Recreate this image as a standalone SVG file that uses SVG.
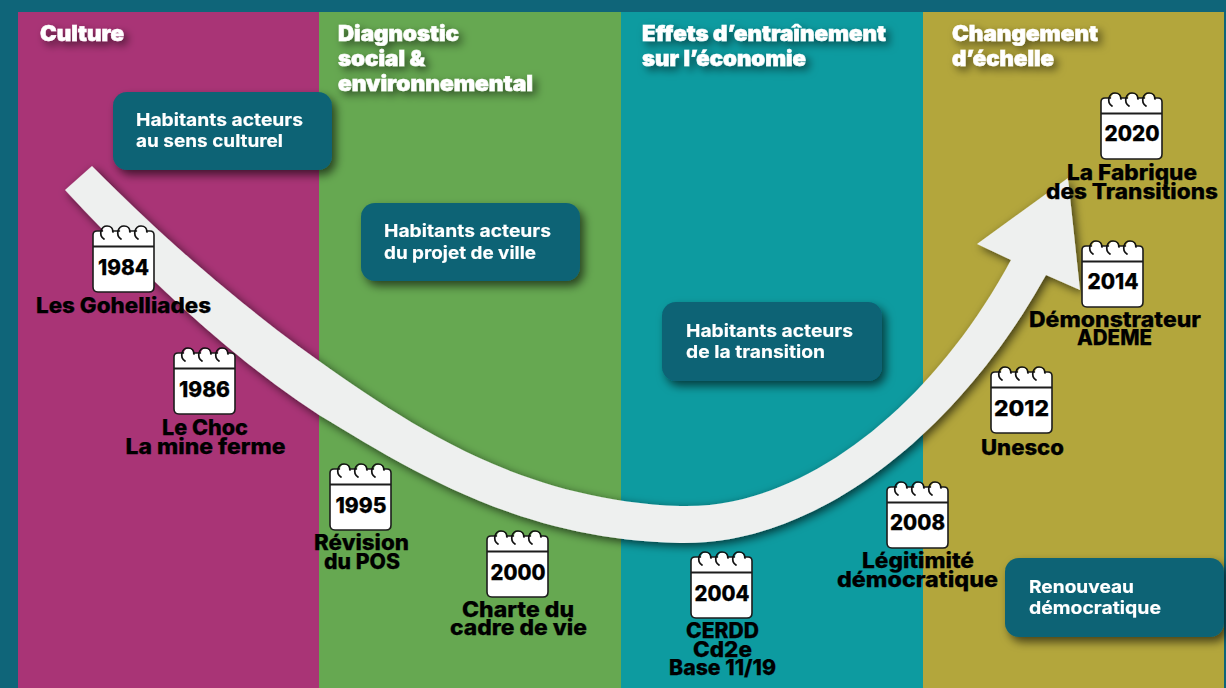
<svg xmlns="http://www.w3.org/2000/svg" xmlns:xlink="http://www.w3.org/1999/xlink" width="1226" height="688" viewBox="0 0 1226 688">
<style>
text{font-family:Inter,"Open Sans","Liberation Sans",sans-serif}
.t{font-size:21px;font-weight:900;fill:#fff;stroke:#fff;stroke-width:.5px}
.b{font-size:17.5px;font-weight:700;fill:#fff;stroke:#fff;stroke-width:.15px}
.l{font-size:21px;font-weight:800;fill:#000;text-anchor:middle;stroke:#000;stroke-width:.25px}
.y{font-size:21px;font-weight:800;fill:#000;text-anchor:middle;stroke:#000;stroke-width:.25px}
.box{fill:#0a6375}
</style>
<defs>
<filter id="ds" x="-20%" y="-40%" width="140%" height="190%"><feDropShadow dx="4" dy="4" stdDeviation="4" flood-color="#000" flood-opacity=".55"/></filter>
<filter id="bs" x="-20%" y="-40%" width="140%" height="190%"><feDropShadow dx="4" dy="5" stdDeviation="5" flood-color="#000" flood-opacity=".6"/></filter>
<filter id="as" x="-5%" y="-5%" width="110%" height="115%"><feDropShadow dx="3" dy="3" stdDeviation="5" flood-color="#000" flood-opacity=".65"/></filter>
<g id="cal">
<path d="M4,5H57Q61,5 61,9V61Q61,66 56,66H5Q0,66 0,61V9Q0,5 4,5Z" fill="#fff" stroke="#1c1c1c" stroke-width="1.6"/>
<path d="M0,20.500H61" stroke="#1c1c1c" stroke-width="1.800"/>
<circle cx="14.500" cy="5" r="4.500" fill="#fff"/><circle cx="31.500" cy="5" r="4.500" fill="#fff"/><circle cx="48.500" cy="5" r="4.500" fill="#fff"/>
<g fill="none" stroke="#111" stroke-width="1.700" stroke-linecap="round">
<path d="M11,13C5,9 8,0 14,0C18,0 20,3 20,6"/>
<path d="M28,13C22,9 25,0 31,0C35,0 37,3 37,6"/>
<path d="M45,13C39,9 42,0 48,0C52,0 54,3 54,6"/>
</g>
</g>
</defs>
<rect id="background" width="1226" height="688" fill="#0f6579"/>
<g id="panels">
<rect x="18" y="12" width="301" height="676" fill="#a93476"/>
<rect x="319" y="12" width="302" height="676" fill="#66a851"/>
<rect x="621" y="12" width="302" height="676" fill="#0d9ba0"/>
<rect x="923" y="12" width="301" height="676" fill="#b3a63c"/>
</g>
<g id="col-titles" filter="url(#ds)">
<text class="t" x="40" y="41" textLength="84" lengthAdjust="spacingAndGlyphs">Culture</text>
<text class="t" x="338" y="41" textLength="121" lengthAdjust="spacingAndGlyphs">Diagnostic</text>
<text class="t" x="338" y="66" textLength="87" lengthAdjust="spacingAndGlyphs">social &amp;</text>
<text class="t" x="338" y="91" textLength="195" lengthAdjust="spacingAndGlyphs">environnemental</text>
<text class="t" x="642" y="41" textLength="244" lengthAdjust="spacingAndGlyphs">Effets d’entraînement</text>
<text class="t" x="642" y="66" textLength="164" lengthAdjust="spacingAndGlyphs">sur l’économie</text>
<text class="t" x="952" y="41" textLength="146" lengthAdjust="spacingAndGlyphs">Changement</text>
<text class="t" x="952" y="66" textLength="102" lengthAdjust="spacingAndGlyphs">d’échelle</text>
</g>
<g id="connectors">
<path id="main-arrow" filter="url(#as)" fill="#eef0ef" d="M92,166C160,235 240,305 319,361C410,425 520,500 680,506C800,510 930,410 1011,260L977,244L1068,178L1080,290L1046,275C960,430 820,545 680,543C520,540 410,470 319,415C220,350 140,270 65,190Z"/>
</g>
<g id="box-culture" filter="url(#bs)"><rect class="box" x="113" y="92" width="219" height="78" rx="14"/>
<text class="b" x="136" y="126" textLength="167" lengthAdjust="spacingAndGlyphs">Habitants acteurs</text>
<text class="b" x="136" y="147" textLength="147" lengthAdjust="spacingAndGlyphs">au sens culturel</text></g>
<g id="box-projet" filter="url(#bs)"><rect class="box" x="361" y="203" width="219" height="78" rx="14"/>
<text class="b" x="384" y="237" textLength="167" lengthAdjust="spacingAndGlyphs">Habitants acteurs</text>
<text class="b" x="384" y="259" textLength="152" lengthAdjust="spacingAndGlyphs">du projet de ville</text></g>
<g id="box-transition" filter="url(#bs)"><rect class="box" x="662" y="302" width="220" height="79" rx="14"/>
<text class="b" x="686" y="337" textLength="167" lengthAdjust="spacingAndGlyphs">Habitants acteurs</text>
<text class="b" x="686" y="358" textLength="139" lengthAdjust="spacingAndGlyphs">de la transition</text></g>
<g id="box-renouveau" filter="url(#bs)"><rect class="box" x="1005" y="558" width="219" height="79" rx="14"/>
<text class="b" x="1029" y="593" textLength="105" lengthAdjust="spacingAndGlyphs">Renouveau</text>
<text class="b" x="1029" y="614" textLength="132" lengthAdjust="spacingAndGlyphs">démocratique</text></g>
<g id="n1984"><use xlink:href="#cal" href="#cal" x="93" y="226"/><text class="y" x="123.500" y="275" textLength="51" lengthAdjust="spacingAndGlyphs">1984</text>
<text class="l" x="123.500" y="313" textLength="175" lengthAdjust="spacingAndGlyphs">Les Gohelliades</text></g>
<g id="n1986"><use xlink:href="#cal" href="#cal" x="174" y="348"/><text class="y" x="204.500" y="397" textLength="51" lengthAdjust="spacingAndGlyphs">1986</text>
<text class="l" x="205" y="435" textLength="86" lengthAdjust="spacingAndGlyphs">Le Choc</text>
<text class="l" x="205.500" y="454" textLength="160" lengthAdjust="spacingAndGlyphs">La mine ferme</text></g>
<g id="n1995"><use xlink:href="#cal" href="#cal" x="330" y="464"/><text class="y" x="361" y="513" textLength="51" lengthAdjust="spacingAndGlyphs">1995</text>
<text class="l" x="361.500" y="550" textLength="95" lengthAdjust="spacingAndGlyphs">Révision</text>
<text class="l" x="362" y="569" textLength="76" lengthAdjust="spacingAndGlyphs">du POS</text></g>
<g id="n2000"><use xlink:href="#cal" href="#cal" x="487" y="531"/><text class="y" x="518" y="580" textLength="55" lengthAdjust="spacingAndGlyphs">2000</text>
<text class="l" x="518" y="617" textLength="112" lengthAdjust="spacingAndGlyphs">Charte du</text>
<text class="l" x="518.500" y="635" textLength="137" lengthAdjust="spacingAndGlyphs">cadre de vie</text></g>
<g id="n2004"><use xlink:href="#cal" href="#cal" x="691" y="552"/><text class="y" x="722" y="601" textLength="55" lengthAdjust="spacingAndGlyphs">2004</text>
<text class="l" x="722.500" y="638" textLength="73" lengthAdjust="spacingAndGlyphs">CERDD</text>
<text class="l" x="722.500" y="657" textLength="59" lengthAdjust="spacingAndGlyphs">Cd2e</text>
<text class="l" x="722.500" y="675" textLength="107" lengthAdjust="spacingAndGlyphs">Base 11/19</text></g>
<g id="n2008"><use xlink:href="#cal" href="#cal" x="887" y="482"/><text class="y" x="917.500" y="530" textLength="55" lengthAdjust="spacingAndGlyphs">2008</text>
<text class="l" x="918" y="568" textLength="112" lengthAdjust="spacingAndGlyphs">Légitimité</text>
<text class="l" x="917.500" y="587" textLength="161" lengthAdjust="spacingAndGlyphs">démocratique</text></g>
<g id="n2012"><use xlink:href="#cal" href="#cal" x="991" y="367"/><text class="y" x="1021.500" y="416" textLength="55" lengthAdjust="spacingAndGlyphs">2012</text>
<text class="l" x="1022.500" y="455" textLength="83" lengthAdjust="spacingAndGlyphs">Unesco</text></g>
<g id="n2014"><use xlink:href="#cal" href="#cal" x="1082" y="241"/><text class="y" x="1113" y="289" textLength="51" lengthAdjust="spacingAndGlyphs">2014</text>
<text class="l" x="1115" y="327" textLength="172" lengthAdjust="spacingAndGlyphs">Démonstrateur</text>
<text class="l" x="1114.500" y="345" textLength="75" lengthAdjust="spacingAndGlyphs">ADEME</text></g>
<g id="n2020"><use xlink:href="#cal" href="#cal" x="1101" y="93"/><text class="y" x="1132" y="141" textLength="55" lengthAdjust="spacingAndGlyphs">2020</text>
<text class="l" x="1132" y="180" textLength="130" lengthAdjust="spacingAndGlyphs">La Fabrique</text>
<text class="l" x="1132" y="199" textLength="172" lengthAdjust="spacingAndGlyphs">des Transitions</text></g>
</svg>
